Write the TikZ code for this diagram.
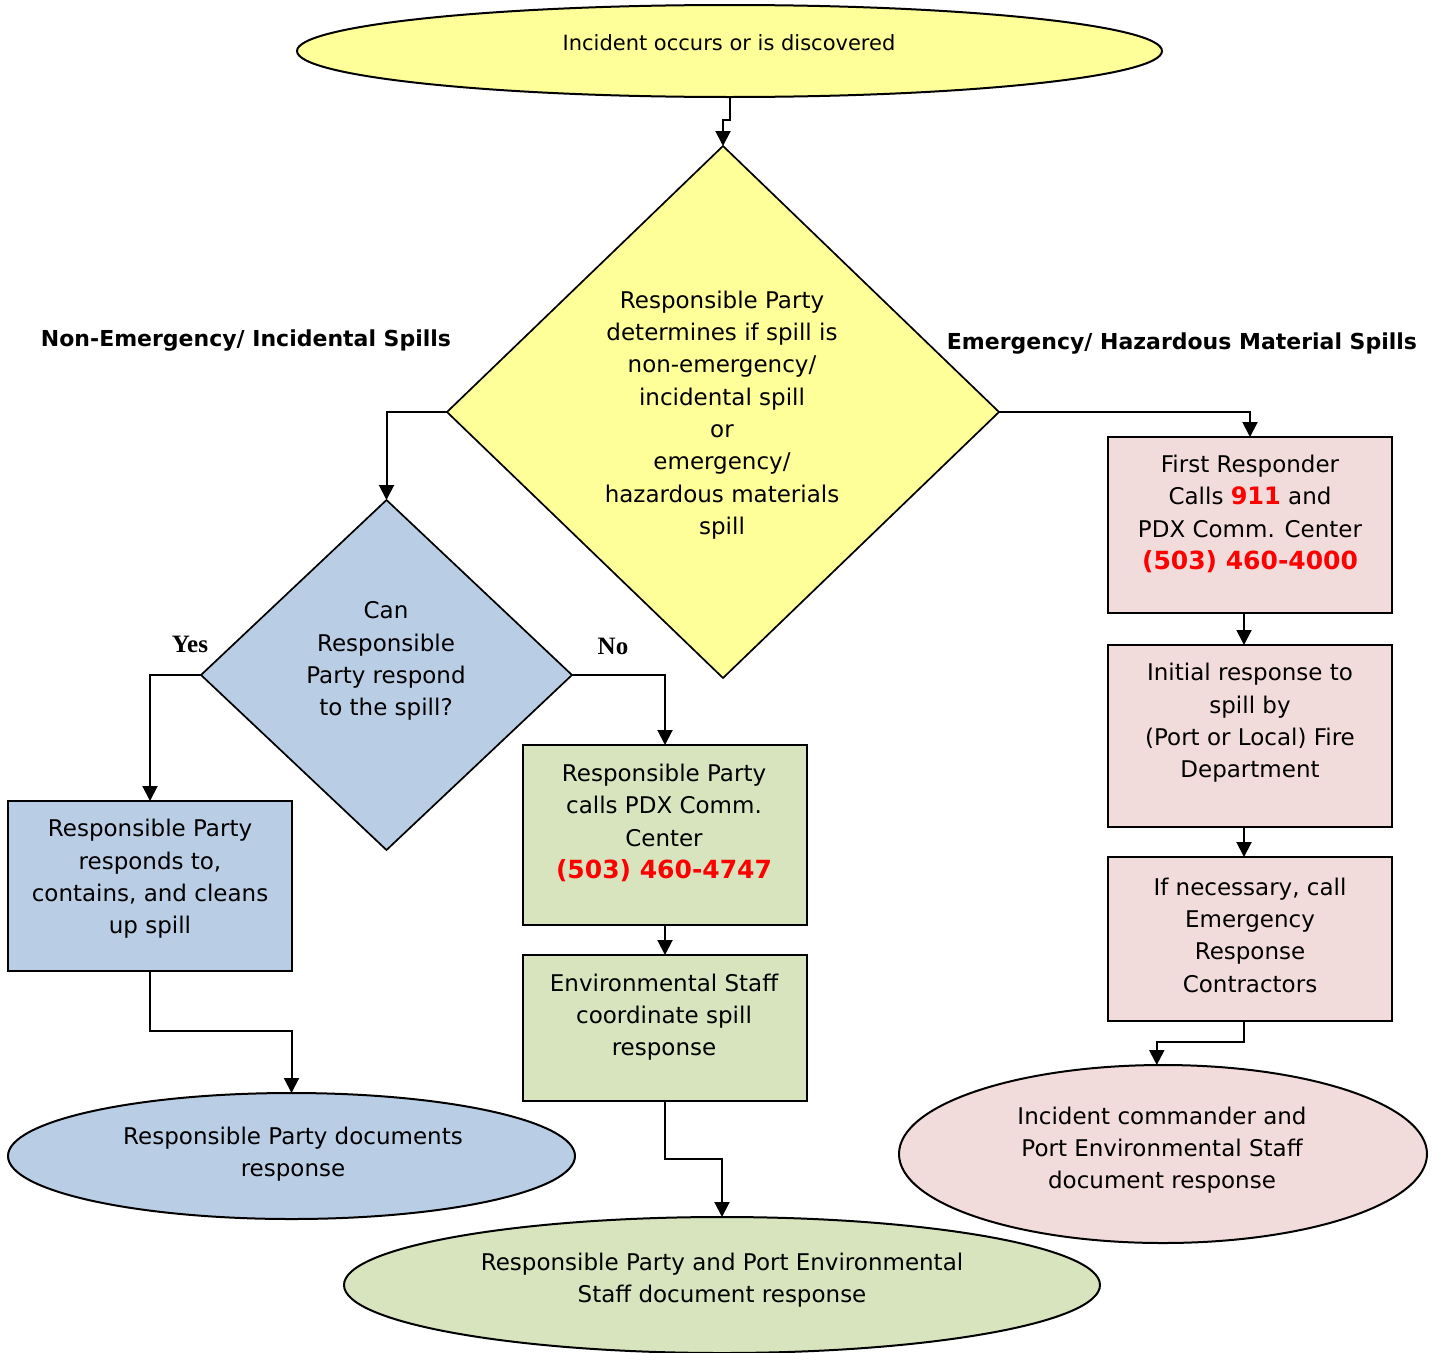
\documentclass[tikz,border=0pt]{standalone}
\usepackage{fontspec}
\setmainfont{DejaVu Sans}
\newfontfamily\serifb{Liberation Serif}
\usetikzlibrary{shapes.geometric,arrows.meta}
\definecolor{cyel}{HTML}{FFFF99}
\definecolor{cblue}{HTML}{B9CDE5}
\definecolor{cgreen}{HTML}{D7E4BD}
\definecolor{cpink}{HTML}{F2DCDB}
\definecolor{cred}{HTML}{FF0000}
\tikzset{
  shp/.style={draw=black, line width=2pt, inner sep=0pt, outer sep=0pt},
  boxs/.style={shp, rectangle},
  ell/.style={shp, ellipse},
  dia/.style={shp, diamond, line width=1.7pt},
  txt/.style={align=center, font=\fontsize{23}{32.3}\selectfont, inner sep=0pt},
  arr/.style={line width=2pt, -{Triangle[width=15pt,length=15pt]}},
  lbl/.style={font=\bfseries\fontsize{22}{26}\selectfont, inner sep=0pt},
  yn/.style={font=\serifb\bfseries\fontsize{25}{30}\selectfont, inner sep=0pt},
}
\newcommand{\phonetxt}[1]{{\color{cred}\bfseries\fontsize{25}{32.3}\selectfont #1}}
\newcommand{\redtxt}[1]{{\color{cred}\bfseries\fontsize{24}{32.3}\selectfont #1}}
\begin{document}
\begin{tikzpicture}[x=1pt,y=-1pt]
\useasboundingbox (0,0) rectangle (1437,1352);
% shapes
\node[ell, fill=cyel, minimum width=865pt, minimum height=92pt] (e0) at (729.5,51) {};
\node[dia, fill=cyel, minimum width=552pt, minimum height=532pt] (d1) at (723,412) {};
\node[dia, fill=cblue, minimum width=371pt, minimum height=350pt] (d2) at (386.5,675) {};
\node[boxs, fill=cblue, minimum width=284pt, minimum height=170pt] (b1) at (150,886) {};
\node[ell, fill=cblue, minimum width=567pt, minimum height=126pt] (e1) at (291.5,1156) {};
\node[boxs, fill=cgreen, minimum width=284pt, minimum height=180pt] (g1) at (665,835) {};
\node[boxs, fill=cgreen, minimum width=284pt, minimum height=146pt] (g2) at (665,1028) {};
\node[ell, fill=cgreen, minimum width=756pt, minimum height=136pt] (e2) at (722,1285) {};
\node[boxs, fill=cpink, minimum width=284pt, minimum height=176pt] (p1) at (1250,525) {};
\node[boxs, fill=cpink, minimum width=284pt, minimum height=182pt] (p2) at (1250,736) {};
\node[boxs, fill=cpink, minimum width=284pt, minimum height=164pt] (p3) at (1250,939) {};
\node[ell, fill=cpink, minimum width=528pt, minimum height=178pt] (e3) at (1163,1154) {};
% texts
\node[txt, font=\fontsize{21}{30}\selectfont] (t0) at (729,43) {Incident occurs or is discovered};
\node[txt] (td1) at (722,415) {Responsible Party\\determines if spill is\\non-emergency/\\incidental spill\\or\\emergency/\\hazardous materials\\spill};
\node[txt] (td2) at (386,661) {Can\\Responsible\\Party respond\\to the spill?};
\node[txt] (tb1) at (150,879) {Responsible Party\\responds to,\\contains, and cleans\\up spill};
\node[txt] (te1) at (293,1154) {Responsible Party documents\\response};
\node[txt] (tg1) at (664,823) {Responsible Party\\calls PDX Comm.\\Center\\\phonetxt{(503) 460-4747}};
\node[txt] (tg2) at (664,1017) {Environmental Staff\\coordinate spill\\response};
\node[txt] (te2) at (722,1280) {Responsible Party and Port Environmental\\Staff document response};
\node[txt] (tp1) at (1250,514) {First Responder\\Calls \redtxt{911} and\\PDX Comm. Center\\\phonetxt{(503) 460-4000}};
\node[txt] (tp2) at (1250,723) {Initial response to\\spill by\\(Port or Local) Fire\\Department};
\node[txt] (tp3) at (1250,935) {If necessary, call\\Emergency\\Response\\Contractors};
\node[txt] (te3) at (1162,1150) {Incident commander and\\Port Environmental Staff\\document response};
% labels
\node[lbl] (l1) at (246,341) {Non-Emergency/ Incidental Spills};
\node[lbl] (l2) at (1182,344) {Emergency/ Hazardous Material Spills};
\node[yn] (lyes) at (190,644) {Yes};
\node[yn] (lno) at (613,646) {No};
% connectors
\draw[arr] (e0.south) -- ++(0,23) -| (d1.north);
\draw[arr] (d1.west) -| (d2.north);
\draw[arr] (d1.east) -| (p1.north);
\draw[arr] (d2.west) -| (b1.north);
\draw[arr] (d2.east) -| (g1.north);
\draw[arr] (b1.south) -- ++(0,60) -| (e1.north);
\draw[arr] (g1.south) -- (g2.north);
\draw[arr] (g2.south) -- ++(0,58) -| (e2.north);
\draw[arr] ([xshift=-6pt]p1.south) -- ([xshift=-6pt]p2.north);
\draw[arr] ([xshift=-6pt]p2.south) -- ([xshift=-6pt]p3.north);
\draw[arr] ([xshift=-6pt]p3.south) -- ++(0,21) -| (e3.94);
\end{tikzpicture}
\end{document}
